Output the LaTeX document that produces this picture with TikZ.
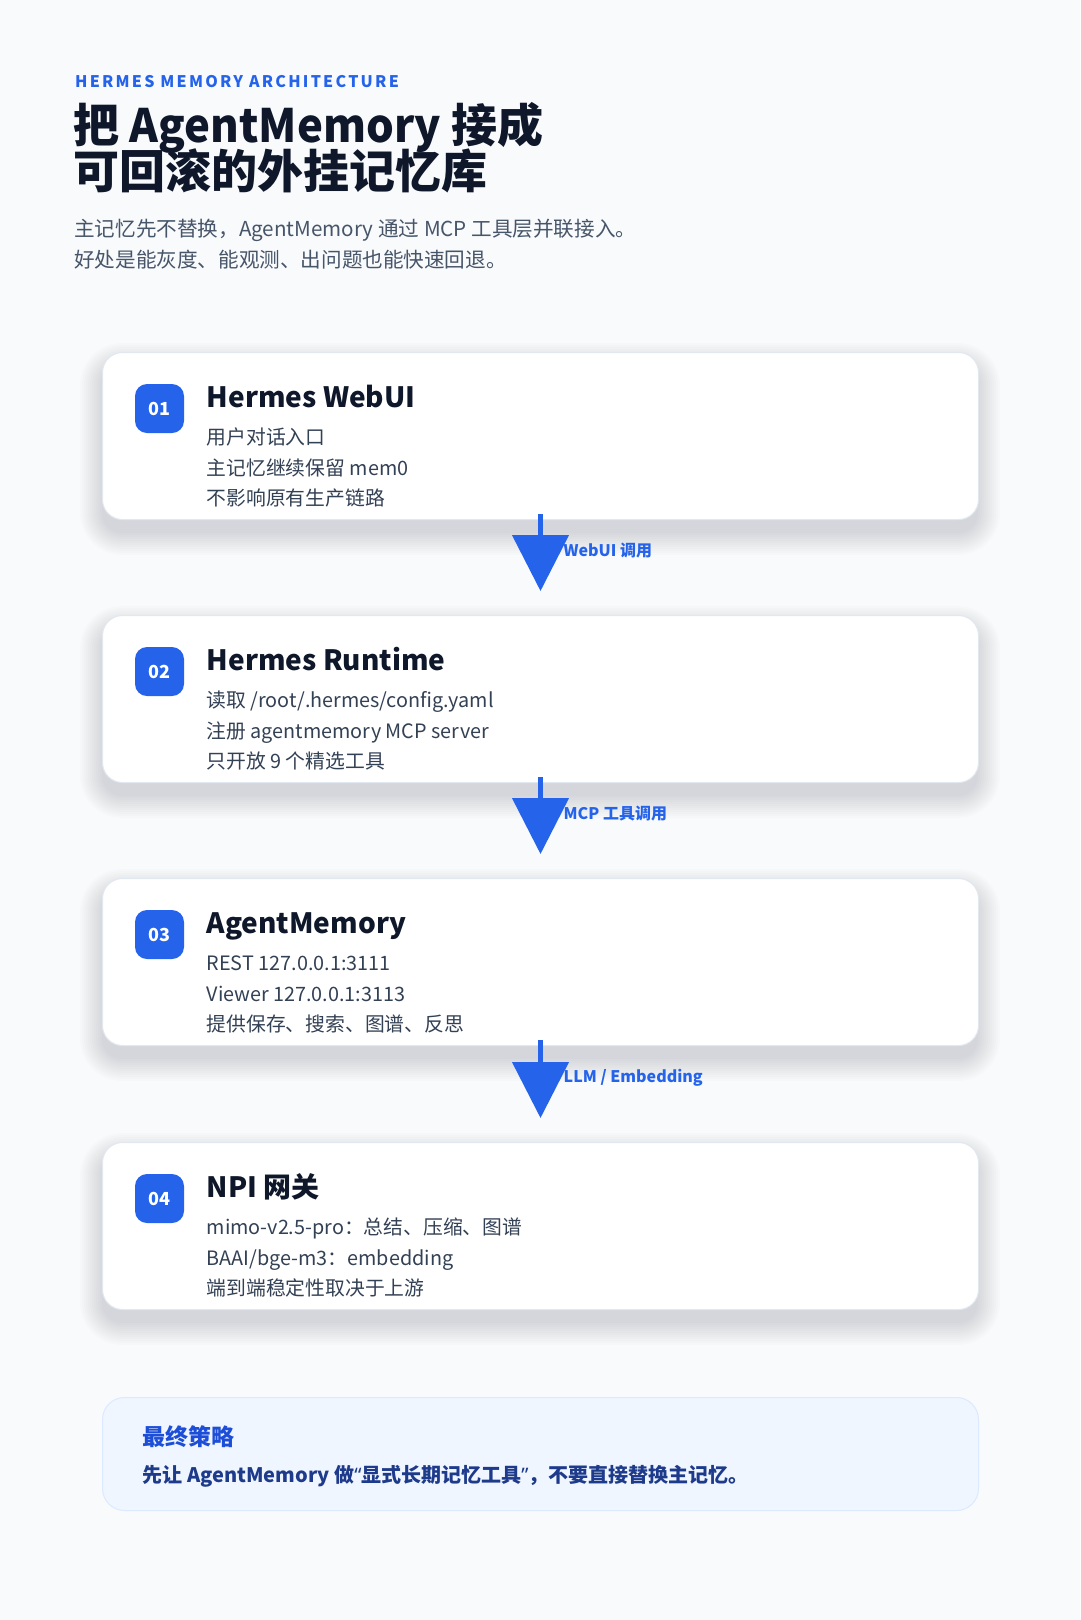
\documentclass[tikz,border=0pt]{standalone}
\usepackage{fontspec}
\setmainfont{Noto Sans CJK SC}
\newfontfamily\spacedfont{Noto Sans CJK SC}[LetterSpace=14]
\newfontfamily\quotefont{Noto Sans}
\usetikzlibrary{calc,arrows.meta}
\definecolor{bg}{HTML}{F8FAFC}
\definecolor{brand}{HTML}{2563EB}
\definecolor{ink}{HTML}{0F172A}
\definecolor{bodytxt}{HTML}{334155}
\definecolor{subtxt}{HTML}{475569}
\definecolor{cardborder}{HTML}{E2E8F0}
\definecolor{shadowc}{HTML}{1E293B}
\definecolor{notefill}{HTML}{EFF6FF}
\definecolor{noteborder}{HTML}{DBEAFE}
\definecolor{notehead}{HTML}{1D4ED8}
\definecolor{notetxt}{HTML}{1E3A8A}
\tikzset{
  card/.style={draw=cardborder, line width=1pt, fill=white, rounded corners=20pt,
    minimum width=876pt, minimum height=167pt, anchor=north west, inner sep=0pt},
  badge/.style={fill=brand, rounded corners=12pt, minimum size=49pt, inner sep=0pt,
    text=white, font=\fontsize{18}{18}\selectfont\bfseries},
  cardtitle/.style={anchor=base west, inner sep=0pt, text=ink,
    font=\fontsize{28}{28}\selectfont\bfseries},
  cardline/.style={anchor=base west, inner sep=0pt, text=bodytxt,
    font=\fontsize{19.8}{20}\selectfont},
  flow/.style={draw=brand, line width=4.5pt, -{Triangle[length=56pt,width=56pt]}},
  flowlabel/.style={anchor=base west, inner sep=0pt, text=brand,
    font=\fontsize{16}{16}\selectfont\bfseries},
  eyebrow/.style={anchor=base west, inner sep=0pt, text=brand,
    font=\spacedfont\fontsize{16}{16}\selectfont\bfseries},
  headline/.style={anchor=base west, inner sep=0pt, text=ink,
    font=\fontsize{46}{48}\selectfont\bfseries},
  subline/.style={anchor=base west, inner sep=0pt, text=subtxt,
    font=\fontsize{20.6}{21}\selectfont},
  notebox/.style={draw=noteborder, line width=1pt, fill=notefill, rounded corners=22pt,
    minimum width=876pt, minimum height=113pt, anchor=north west, inner sep=0pt},
  notehead/.style={anchor=base west, inner sep=0pt, text=notehead,
    font=\fontsize{23}{24}\selectfont\bfseries},
  notetext/.style={anchor=base west, inner sep=0pt, text=notetxt,
    font=\fontsize{20}{21}\selectfont\bfseries},
}
\newcommand\flowcard[7]{%
  \foreach \i in {0,2,...,22}{%
    \pgfmathsetmacro\rr{20+\i}
    \fill[shadowc, opacity=0.011, rounded corners=\rr pt]
      (102-\i, #2+13-\i) rectangle (978+\i, #2+181+\i);
  }
  \node[card] (#1) at (102,#2) {};
  \node[badge] (#1n) at ($(#1.north west)+(57.5,56.5)$) {#3};
  \node[cardtitle] (#1t) at ($(#1.north west)+(104.5,55)$) {#4};
  \node[cardline] (#1a) at ($(#1.north west)+(104.5,92.5)$) {#5};
  \node[cardline] (#1b) at ($(#1.north west)+(104.5,123)$) {#6};
  \node[cardline] (#1c) at ($(#1.north west)+(104.5,153.5)$) {#7};
}
\begin{document}
\begin{tikzpicture}[x=1pt,y=-1pt]
\useasboundingbox (0,0) rectangle (1080,1620);
\fill[bg] (0,0) rectangle (1080,1620);

\node[eyebrow] (eyebrow) at (75,87.3) {HERMES MEMORY ARCHITECTURE};
\node[headline] (head1) at (73,142) {把 \scalebox{0.95}[1]{AgentMemory} 接成};
\node[headline] (head2) at (73,188.5) {可回滚的外挂记忆库};
\node[subline] (sub1) at (74,236.4) {主记忆先不替换，AgentMemory 通过 MCP 工具层并联接入。};
\node[subline] (sub2) at (74,267) {好处是能灰度、能观测、出问题也能快速回退。};

\flowcard{c1}{352}{01}{Hermes WebUI}{用户对话入口}{主记忆继续保留 mem0}{不影响原有生产链路}
\flowcard{c2}{615}{02}{Hermes Runtime}{读取 /root/.hermes/config.yaml}{注册 agentmemory MCP server}{只开放 9 个精选工具}
\flowcard{c3}{878}{03}{AgentMemory}{REST 127.0.0.1:3111}{Viewer 127.0.0.1:3113}{提供保存、搜索、图谱、反思}
\flowcard{c4}{1142}{04}{NPI 网关}{mimo-v2.5-pro：总结、压缩、图谱}{BAAI/bge-m3：embedding}{端到端稳定性取决于上游}

\draw[flow] ($(c1.south)+(0,-6)$) -- ($(c2.north)+(0,-24)$);
\draw[flow] ($(c2.south)+(0,-6)$) -- ($(c3.north)+(0,-24)$);
\draw[flow] ($(c3.south)+(0,-6)$) -- ($(c4.north)+(0,-24)$);
\node[flowlabel] (f1) at ($(c1.south)+(23,36.5)$) {WebUI 调用};
\node[flowlabel] (f2) at ($(c2.south)+(23,36.5)$) {MCP 工具调用};
\node[flowlabel] (f3) at ($(c3.south)+(23,36.5)$) {LLM / Embedding};

\node[notebox] (note) at (102,1397) {};
\node[notehead] (noteh) at ($(note.north west)+(40.5,48.5)$) {最终策略};
\node[notetext] (notet) at ($(note.north west)+(40.5,85.5)$) {先让 AgentMemory 做{\quotefont “}显式长期记忆工具{\quotefont ”}，不要直接替换主记忆。};
\end{tikzpicture}
\end{document}
